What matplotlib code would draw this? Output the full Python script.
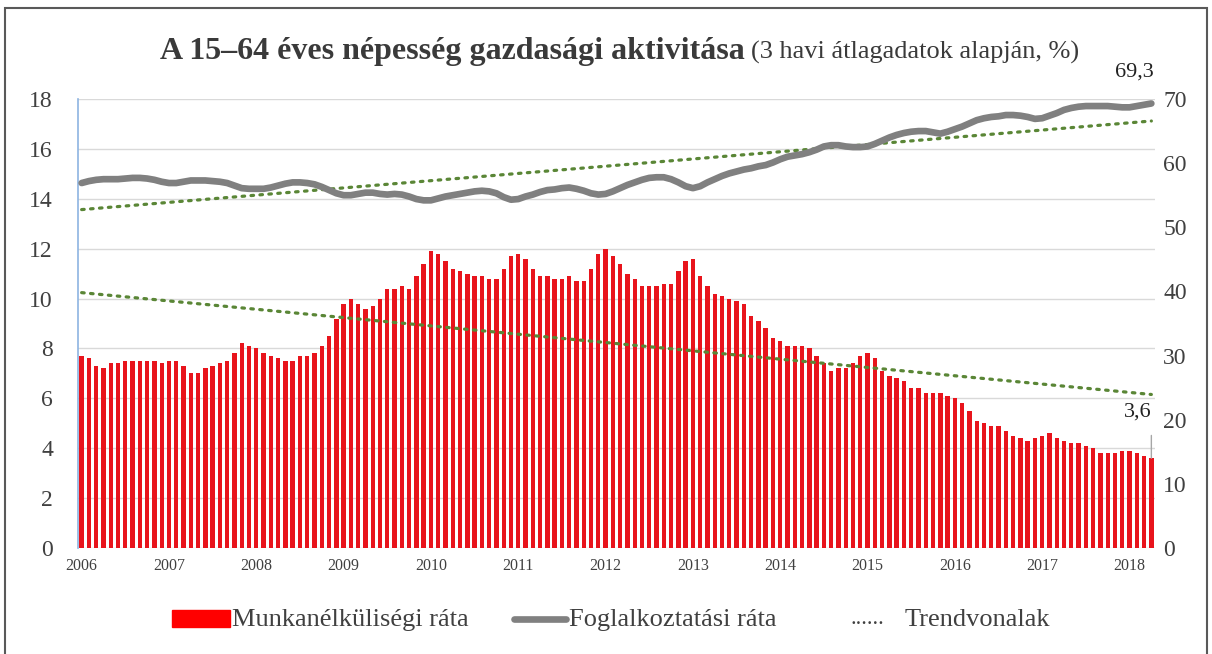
import matplotlib
matplotlib.use("Agg")
import matplotlib.pyplot as plt
from matplotlib.patches import Rectangle
from matplotlib.lines import Line2D
import numpy as np

plt.rcParams['font.family'] = ['Liberation Serif', 'DejaVu Serif']

# monthly data, 2006 Jan .. 2018 Apr (3-month moving averages)
years = list(range(2006, 2019))
unemployment = [
    7.7, 7.6, 7.3, 7.2, 7.4, 7.4, 7.5, 7.5, 7.5, 7.5, 7.5, 7.4,
    7.5, 7.5, 7.3, 7.0, 7.0, 7.2, 7.3, 7.4, 7.5, 7.8, 8.2, 8.1,
    8.0, 7.8, 7.7, 7.6, 7.5, 7.5, 7.7, 7.7, 7.8, 8.1, 8.5, 9.2,
    9.8, 10.0, 9.8, 9.6, 9.7, 10.0, 10.4, 10.4, 10.5, 10.4, 10.9, 11.4,
    11.9, 11.8, 11.5, 11.2, 11.1, 11.0, 10.9, 10.9, 10.8, 10.8, 11.2, 11.7,
    11.8, 11.6, 11.2, 10.9, 10.9, 10.8, 10.8, 10.9, 10.7, 10.7, 11.2, 11.8,
    12.0, 11.7, 11.4, 11.0, 10.8, 10.5, 10.5, 10.5, 10.6, 10.6, 11.1, 11.5,
    11.6, 10.9, 10.5, 10.2, 10.1, 10.0, 9.9, 9.8, 9.3, 9.1, 8.8, 8.4,
    8.3, 8.1, 8.1, 8.1, 8.0, 7.7, 7.4, 7.1, 7.2, 7.2, 7.4, 7.7,
    7.8, 7.6, 7.1, 6.9, 6.8, 6.7, 6.4, 6.4, 6.2, 6.2, 6.2, 6.1,
    6.0, 5.8, 5.5, 5.1, 5.0, 4.9, 4.9, 4.7, 4.5, 4.4, 4.3, 4.4,
    4.5, 4.6, 4.4, 4.3, 4.2, 4.2, 4.1, 4.0, 3.8, 3.8, 3.8, 3.9,
    3.9, 3.8, 3.7, 3.6,
]
employment = [
    56.9, 57.2, 57.4, 57.5, 57.5, 57.5, 57.6, 57.7, 57.7, 57.6, 57.4, 57.1,
    56.9, 56.9, 57.1, 57.3, 57.3, 57.3, 57.2, 57.1, 56.9, 56.5, 56.1, 56.0,
    56.0, 56.0, 56.2, 56.5, 56.8, 57.0, 57.0, 56.9, 56.7, 56.3, 55.8, 55.3,
    55.0, 55.0, 55.2, 55.4, 55.4, 55.2, 55.1, 55.2, 55.1, 54.8, 54.4, 54.2,
    54.2, 54.5, 54.8, 55.0, 55.2, 55.4, 55.6, 55.7, 55.6, 55.3, 54.7, 54.3,
    54.4, 54.8, 55.1, 55.5, 55.8, 55.9, 56.1, 56.2, 56.0, 55.7, 55.3, 55.1,
    55.2, 55.6, 56.1, 56.6, 57.0, 57.4, 57.7, 57.8, 57.8, 57.5, 57.0, 56.4,
    56.1, 56.4, 57.0, 57.5, 58.0, 58.4, 58.7, 59.0, 59.2, 59.5, 59.7, 60.1,
    60.6, 61.0, 61.2, 61.4, 61.7, 62.1, 62.6, 62.8, 62.8, 62.6, 62.5, 62.5,
    62.6, 63.0, 63.5, 64.0, 64.4, 64.7, 64.9, 65.0, 65.0, 64.8, 64.6, 64.9,
    65.3, 65.7, 66.2, 66.7, 67.0, 67.2, 67.3, 67.5, 67.5, 67.4, 67.2, 66.9,
    67.0, 67.4, 67.8, 68.3, 68.6, 68.8, 68.9, 68.9, 68.9, 68.9, 68.8, 68.7,
    68.7, 68.9, 69.1, 69.3,
]

W, H = 1212, 654
fig = plt.figure(figsize=(W / 100, H / 100), dpi=100)
txt = '#404040'
red = '#e8141c'
gray = '#808080'
green = '#5a8636'


def fx(px):
    return px / W


def fy(py):
    return 1 - py / H


ax = fig.add_axes([fx(78), fy(548), fx(1155) - fx(78), fy(99) - fy(548)])
ax2 = ax.twinx()

x = np.arange(len(unemployment))
ax.bar(x, unemployment, width=0.6, color=red, zorder=2)

# linear trend lines
cu = np.polyfit(x, unemployment, 1)
ce = np.polyfit(x, employment, 1)
ax.plot(x, np.polyval(cu, x), color=green, lw=2.3, linestyle=(0, (0.8, 2.0)),
        dash_capstyle='round', zorder=3)
ax2.plot(x, np.polyval(ce, x), color=green, lw=2.3, linestyle=(0, (0.8, 2.0)),
         dash_capstyle='round', zorder=3)
ax2.plot(x, employment, color=gray, lw=4.8, solid_capstyle='round', zorder=4)

ax.set_xlim(-0.5, len(x) - 0.5)
ax.set_ylim(0, 18)
ax.set_yticks(range(0, 19, 2))
ax2.set_ylim(0, 70)
ax2.set_yticks(range(0, 71, 10))
ax.set_xticks([12 * i for i in range(len(years))])
ax.set_xticklabels([str(y) for y in years], fontsize=11.5, color=txt)
ax.yaxis.grid(True, color='#d9d9d9', lw=1)
ax.set_axisbelow(True)
ax.tick_params(axis='x', length=0, pad=7)
ax.tick_params(axis='y', length=0, pad=18, labelsize=17, labelcolor=txt)
ax2.tick_params(axis='y', length=0, pad=6, labelsize=17, labelcolor=txt)
for s in ['top', 'right', 'bottom']:
    ax.spines[s].set_visible(False)
for s in ax2.spines.values():
    s.set_visible(False)
ax.spines['left'].set_color('#8db4e2')
ax.spines['left'].set_linewidth(1.2)

# end-point labels
last = len(x) - 1
ax.annotate(f"{unemployment[-1]:.1f}".replace('.', ','), xy=(last, unemployment[-1]),
            xytext=(last - 1.9, unemployment[-1] + 1.85), ha='center', va='center',
            fontsize=16, color='#222222',
            arrowprops=dict(arrowstyle='-', color='#a6a6a6', lw=1,
                            shrinkA=8, shrinkB=0,
                            relpos=(1.0, 0.0)))
ax2.text(last - 2.3, employment[-1] + 4.9, f"{employment[-1]:.1f}".replace('.', ','),
         ha='center', va='center', fontsize=16, color='#222222', clip_on=False)

# title
fig.text(fx(745), fy(51), "A 15–64 éves népesség gazdasági aktivitása", ha='right',
         va='center', fontsize=23, fontweight='bold', color='#3a3a3a')
fig.text(fx(751), fy(52), "(3 havi átlagadatok alapján, %)", ha='left',
         va='center', fontsize=19, color='#3a3a3a')

# legend
fig.patches.append(Rectangle((fx(172), fy(627)), fx(230) - fx(172), fy(610) - fy(627),
                             transform=fig.transFigure, color='#ff0000'))
fig.text(fx(232), fy(620), "Munkanélküliségi ráta", ha='left', va='center',
         fontsize=19, color=txt)
fig.lines.append(Line2D([fx(514), fx(566)], [fy(619), fy(619)], transform=fig.transFigure,
                        color=gray, lw=4.8, solid_capstyle='round'))
fig.text(fx(569), fy(620), "Foglalkoztatási ráta", ha='left', va='center',
         fontsize=19, color=txt)
fig.text(fx(851), fy(619), "......", ha='left', va='center', fontsize=16, color=txt)
fig.text(fx(905), fy(620), "Trendvonalak", ha='left', va='center',
         fontsize=19, color=txt)

# outer frame
fig.patches.append(Rectangle((fx(5), fy(660)), fx(1207) - fx(5), fy(8) - fy(660),
                             transform=fig.transFigure, fill=False,
                             edgecolor='#595959', lw=1.5))

fig.savefig('out.png', dpi=100)
